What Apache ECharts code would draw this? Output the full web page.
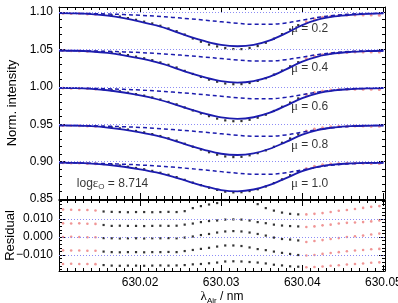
<!DOCTYPE html>
<html>
<head>
<meta charset="utf-8">
<script src="https://cdn.jsdelivr.net/npm/echarts@6/dist/echarts.min.js"></script>
<style>
  html, body { margin: 0; padding: 0; background: #fff; }
  #chart { width: 398px; height: 303px; }
</style>
</head>
<body>
<div id="chart"></div>
<script>
// wavelength grids (nm)
const lamObs = [
  630.0105, 630.0115, 630.0125, 630.0135, 630.0145, 630.0155, 630.0165, 630.0175, 630.0185, 630.0195,
  630.0205, 630.0215, 630.0225, 630.0235, 630.0245, 630.0255, 630.0265, 630.0275, 630.0285, 630.0295,
  630.0305, 630.0315, 630.0325, 630.0335, 630.0345, 630.0355, 630.0365, 630.0375, 630.0385, 630.0395,
  630.0405, 630.0415, 630.0425, 630.0435, 630.0445, 630.0455, 630.0465, 630.0475, 630.0485, 630.0495
]
const lamFit = [
  630.010, 630.012, 630.014, 630.016, 630.018, 630.020, 630.022, 630.024, 630.026, 630.028,
  630.030, 630.032, 630.034, 630.036, 630.038, 630.040, 630.042, 630.044, 630.046, 630.048, 630.050
]

const muNames = ['0.2', '0.4', '0.6', '0.8', '1.0']
const offsets = [0.10, 0.05, 0, -0.05, -0.10] // vertical shift of each profile
const residOffsets = [0.015, 0.0075, 0, -0.0075, -0.015]
const contLevels = [1.10, 1.05, 1.00, 0.95, 0.90]

// observed profiles (normalised intensity)
const obs02 = [0.9982, 0.9981, 0.9980, 0.9975, 0.9971, 0.9967, 0.9955, 0.9939, 0.9919, 0.9896, 0.9871, 0.9847, 0.9816, 0.9780, 0.9744, 0.9699, 0.9646, 0.9603, 0.9564, 0.9540, 0.9517, 0.9505, 0.9504, 0.9519, 0.9545, 0.9589, 0.9643, 0.9704, 0.9766, 0.9824, 0.9871, 0.9906, 0.9930, 0.9944, 0.9952, 0.9959, 0.9961, 0.9961, 0.9959, 0.9958]
const obs04 = [0.9984, 0.9983, 0.9979, 0.9976, 0.9971, 0.9967, 0.9959, 0.9942, 0.9924, 0.9903, 0.9881, 0.9856, 0.9826, 0.9794, 0.9758, 0.9713, 0.9672, 0.9632, 0.9596, 0.9568, 0.9545, 0.9535, 0.9536, 0.9551, 0.9579, 0.9615, 0.9663, 0.9717, 0.9774, 0.9829, 0.9877, 0.9910, 0.9930, 0.9945, 0.9953, 0.9959, 0.9964, 0.9967, 0.9966, 0.9964]
const obs06 = [0.9985, 0.9982, 0.9980, 0.9976, 0.9970, 0.9966, 0.9954, 0.9941, 0.9922, 0.9902, 0.9882, 0.9858, 0.9831, 0.9798, 0.9766, 0.9724, 0.9684, 0.9644, 0.9608, 0.9575, 0.9551, 0.9540, 0.9542, 0.9559, 0.9587, 0.9627, 0.9677, 0.9733, 0.9789, 0.9845, 0.9897, 0.9925, 0.9945, 0.9956, 0.9964, 0.9966, 0.9968, 0.9969, 0.9966, 0.9963]
const obs08 = [0.9984, 0.9983, 0.9980, 0.9976, 0.9971, 0.9967, 0.9958, 0.9945, 0.9928, 0.9910, 0.9891, 0.9868, 0.9842, 0.9812, 0.9781, 0.9739, 0.9699, 0.9661, 0.9625, 0.9593, 0.9569, 0.9560, 0.9564, 0.9584, 0.9613, 0.9650, 0.9698, 0.9752, 0.9809, 0.9864, 0.9908, 0.9937, 0.9954, 0.9966, 0.9972, 0.9974, 0.9975, 0.9976, 0.9974, 0.9974]
const obs10 = [0.9985, 0.9982, 0.9980, 0.9975, 0.9971, 0.9967, 0.9959, 0.9948, 0.9932, 0.9915, 0.9898, 0.9876, 0.9851, 0.9824, 0.9793, 0.9756, 0.9719, 0.9685, 0.9651, 0.9622, 0.9598, 0.9588, 0.9591, 0.9606, 0.9630, 0.9667, 0.9713, 0.9763, 0.9818, 0.9867, 0.9909, 0.9938, 0.9957, 0.9968, 0.9975, 0.9977, 0.9978, 0.9978, 0.9976, 0.9975]

// fitted synthetic profiles
const fit02 = [0.9985, 0.9982, 0.9972, 0.9952, 0.9918, 0.9873, 0.9820, 0.9752, 0.9675, 0.9610, 0.9560, 0.9542, 0.9560, 0.9620, 0.9717, 0.9825, 0.9900, 0.9941, 0.9963, 0.9975, 0.9981]
const fit04 = [0.9985, 0.9982, 0.9972, 0.9953, 0.9921, 0.9879, 0.9829, 0.9764, 0.9689, 0.9625, 0.9575, 0.9557, 0.9577, 0.9637, 0.9733, 0.9837, 0.9908, 0.9946, 0.9966, 0.9977, 0.9982]
const fit06 = [0.9985, 0.9982, 0.9972, 0.9954, 0.9924, 0.9885, 0.9837, 0.9776, 0.9704, 0.9640, 0.9590, 0.9572, 0.9593, 0.9654, 0.9748, 0.9848, 0.9916, 0.9952, 0.9969, 0.9978, 0.9982]
const fit08 = [0.9985, 0.9982, 0.9973, 0.9955, 0.9928, 0.9891, 0.9846, 0.9788, 0.9718, 0.9655, 0.9605, 0.9588, 0.9610, 0.9672, 0.9764, 0.9860, 0.9925, 0.9957, 0.9973, 0.9980, 0.9983]
const fit10 = [0.9985, 0.9982, 0.9973, 0.9956, 0.9931, 0.9897, 0.9855, 0.9800, 0.9733, 0.9670, 0.9620, 0.9603, 0.9627, 0.9689, 0.9780, 0.9872, 0.9933, 0.9963, 0.9976, 0.9982, 0.9984]

// blend component (dashed)
const blend02 = [0.9984, 0.9982, 0.9979, 0.9973, 0.9966, 0.9956, 0.9943, 0.9928, 0.9910, 0.9891, 0.9869, 0.9849, 0.9835, 0.9835, 0.9854, 0.9891, 0.9929, 0.9956, 0.9972, 0.9980, 0.9983]
const blend04 = [0.9984, 0.9982, 0.9979, 0.9974, 0.9967, 0.9958, 0.9946, 0.9932, 0.9915, 0.9897, 0.9877, 0.9858, 0.9845, 0.9845, 0.9863, 0.9897, 0.9933, 0.9958, 0.9973, 0.9980, 0.9983]
const blend06 = [0.9984, 0.9982, 0.9979, 0.9974, 0.9966, 0.9957, 0.9945, 0.9930, 0.9913, 0.9894, 0.9874, 0.9854, 0.9841, 0.9841, 0.9859, 0.9894, 0.9931, 0.9957, 0.9973, 0.9980, 0.9983]
const blend08 = [0.9984, 0.9982, 0.9979, 0.9973, 0.9966, 0.9957, 0.9944, 0.9929, 0.9911, 0.9893, 0.9872, 0.9852, 0.9838, 0.9838, 0.9857, 0.9893, 0.9930, 0.9957, 0.9972, 0.9980, 0.9983]
const blend10 = [0.9984, 0.9982, 0.9978, 0.9973, 0.9965, 0.9955, 0.9942, 0.9927, 0.9908, 0.9888, 0.9866, 0.9845, 0.9831, 0.9831, 0.9851, 0.9888, 0.9928, 0.9955, 0.9972, 0.9979, 0.9983]

// residuals
const res02 = [0.0003, 0.0002, 0, 0, -0.0002, -0.0008, -0.0010, -0.0011, -0.0012, -0.0011, -0.0011, -0.0012, -0.0011, -0.0010, -0.0011, -0.0006, 0.0011, 0.0022, 0.0031, 0.0039, 0.0056, 0.0067, 0.0067, 0.0056, 0.0033, 0.0011, -0.0003, -0.0014, -0.0021, -0.0024, -0.0024, -0.0021, -0.0017, -0.0011, -0.0004, 0, 0.0006, 0.0012, 0.0018, 0.0022]
const res04 = [0.0001, 0, 0.0001, -0.0001, -0.0002, -0.0008, -0.0013, -0.0012, -0.0013, -0.0013, -0.0014, -0.0013, -0.0012, -0.0013, -0.0012, -0.0006, 0, 0.0008, 0.0014, 0.0017, 0.0022, 0.0023, 0.0022, 0.0017, 0.0008, 0.0002, -0.0006, -0.0011, -0.0014, -0.0016, -0.0019, -0.0016, -0.0010, -0.0006, 0, 0.0004, 0.0006, 0.0008, 0.0012, 0.0017]
const res06 = [0, 0.0001, 0, -0.0001, -0.0001, -0.0006, -0.0007, -0.0008, -0.0007, -0.0007, -0.0008, -0.0007, -0.0007, -0.0006, -0.0007, -0.0003, 0.0003, 0.0011, 0.0017, 0.0025, 0.0031, 0.0033, 0.0031, 0.0025, 0.0017, 0.0008, -0.0003, -0.0011, -0.0014, -0.0019, -0.0028, -0.0022, -0.0017, -0.0011, -0.0006, 0, 0.0004, 0.0008, 0.0014, 0.0019]
const res08 = [0.0001, 0, 0, -0.0001, -0.0001, -0.0006, -0.0009, -0.0010, -0.0009, -0.0009, -0.0010, -0.0009, -0.0009, -0.0008, -0.0009, -0.0003, 0.0003, 0.0009, 0.0015, 0.0022, 0.0028, 0.0028, 0.0025, 0.0017, 0.0008, 0.0002, -0.0006, -0.0013, -0.0019, -0.0025, -0.0028, -0.0025, -0.0019, -0.0014, -0.0009, -0.0004, 0, 0.0003, 0.0007, 0.0009]
const res10 = [0, 0.0001, 0, 0, -0.0001, -0.0006, -0.0009, -0.0010, -0.0009, -0.0009, -0.0010, -0.0009, -0.0008, -0.0009, -0.0008, -0.0006, -0.0002, 0, 0.0004, 0.0008, 0.0014, 0.0015, 0.0014, 0.0011, 0.0008, 0.0003, -0.0004, -0.0008, -0.0013, -0.0015, -0.0018, -0.0017, -0.0014, -0.0010, -0.0007, -0.0003, 0, 0.0003, 0.0007, 0.0009]

// points used in the fit (black), the rest are red
const fitFrom = 5
const fitTo = 29

// residual axis ticks
const residLabels = [-0.01, 0, 0.01]
const residMinor = [-0.018, -0.016, -0.014, -0.012, -0.008, -0.006, -0.004, -0.002, 0.002, 0.004, 0.006, 0.008, 0.012, 0.014, 0.016, 0.018, 0.020]

// label positions (data coords)
const muLabelX = 630.0386
const muLabelY = [1.078, 1.025, 0.973, 0.922, 0.871]
const abundance = '8.714'

const obsAll = [obs02, obs04, obs06, obs08, obs10]
const fitAll = [fit02, fit04, fit06, fit08, fit10]
const blendAll = [blend02, blend04, blend06, blend08, blend10]
const resAll = [res02, res04, res06, res08, res10]

const FONT = '"Liberation Sans", Arial, Helvetica, sans-serif'
const SERIF = '"Liberation Serif", "DejaVu Serif", serif'
const LINE_BLUE = '#1c1cae'
const DOT_BLUE = '#8c8cf5'
const RED = '#ec7a7a'

const chart = echarts.init(document.getElementById('chart'), null, { renderer: 'canvas' })

function xAx(grid, pos, labels) {
  return {
    gridIndex: grid, type: 'value', position: pos,
    min: 630.01, max: 630.0502, interval: 0.01,
    axisLine: { show: true, onZero: false, lineStyle: { color: '#000', width: 1 } },
    axisTick: { show: true, inside: true, length: 6, lineStyle: { color: '#000' } },
    minorTick: { show: true, splitNumber: 10, length: 3, lineStyle: { color: '#000' } },
    splitLine: { show: false },
    axisLabel: {
      show: labels, showMinLabel: false, margin: 6, color: '#000', fontSize: 12, fontFamily: FONT,
      formatter: v => v.toFixed(2)
    }
  }
}

const resLim = { min: -0.0189, max: 0.0206 }
function resAx(pos, labels, minor) {
  return {
    gridIndex: 1, type: 'value', position: pos, min: resLim.min, max: resLim.max, offset: 0,
    axisLine: { show: !minor, onZero: false, lineStyle: { color: '#000', width: 1 } },
    axisTick: { show: true, inside: true, length: minor ? 3 : 6, customValues: minor ? residMinor : residLabels, lineStyle: { color: '#000' } },
    splitLine: { show: false },
    axisLabel: {
      show: labels, customValues: residLabels, margin: 6, color: '#000', fontSize: 12, fontFamily: FONT,
      formatter: v => (v < 0 ? '\u2212' : '') + Math.abs(v).toFixed(3)
    }
  }
}

const series = []

// dotted continuum / zero levels
series.push({
  type: 'line', xAxisIndex: 0, yAxisIndex: 0, data: [], silent: true,
  markLine: {
    symbol: 'none', silent: true, label: { show: false }, animation: false,
    lineStyle: { type: [1, 2], color: DOT_BLUE, width: 1 },
    data: contLevels.map(v => ({ yAxis: v }))
  }
})
series.push({
  type: 'line', xAxisIndex: 2, yAxisIndex: 2, data: [], silent: true,
  markLine: {
    symbol: 'none', silent: true, label: { show: false }, animation: false,
    lineStyle: { type: [1, 2], color: DOT_BLUE, width: 1 },
    data: residOffsets.map(v => ({ yAxis: v }))
  }
})

for (let k = 0; k < 5; k++) {
  const off = offsets[k]
  series.push({
    type: 'line', xAxisIndex: 0, yAxisIndex: 0, symbol: 'none', smooth: 0.35,
    lineStyle: { color: LINE_BLUE, width: 1.5, type: [4, 3] },
    data: lamFit.map((x, i) => [x, blendAll[k][i] + off])
  })
  series.push({
    type: 'line', xAxisIndex: 0, yAxisIndex: 0, symbol: 'none', smooth: 0.35,
    lineStyle: { color: LINE_BLUE, width: 1.8 },
    data: lamFit.map((x, i) => [x, fitAll[k][i] + off])
  })
  const red = [], black = [], rRed = [], rBlack = []
  lamObs.forEach((x, i) => {
    const inFit = i >= fitFrom && i <= fitTo
    ;(inFit ? black : red).push([x, obsAll[k][i] + off])
    ;(inFit ? rBlack : rRed).push([x, resAll[k][i] + residOffsets[k]])
  })
  series.push({ type: 'scatter', xAxisIndex: 0, yAxisIndex: 0, symbol: 'circle', symbolSize: 3, itemStyle: { color: RED }, data: red })
  series.push({ type: 'scatter', xAxisIndex: 0, yAxisIndex: 0, symbol: 'rect', symbolSize: 2.2, itemStyle: { color: '#000' }, data: black })
  series.push({ type: 'scatter', xAxisIndex: 2, yAxisIndex: 2, symbol: 'circle', symbolSize: 2.6, clip: true, itemStyle: { color: RED }, data: rRed })
  series.push({ type: 'scatter', xAxisIndex: 2, yAxisIndex: 2, symbol: 'rect', symbolSize: 2.2, clip: true, itemStyle: { color: '#000' }, data: rBlack })
}

// text annotations
series.push({
  type: 'scatter', xAxisIndex: 0, yAxisIndex: 0, symbolSize: 0, silent: true,
  data: muNames.map((m, k) => ({ value: [muLabelX, muLabelY[k]], name: m })),
  label: {
    show: true, position: 'right', distance: 0,
    formatter: p => '{g|\u03bc} {t|= ' + p.name + '}',
    rich: {
      g: { fontFamily: SERIF, fontSize: 13, color: '#000' },
      t: { fontFamily: FONT, fontSize: 12, color: '#000' }
    }
  }
})
series.push({
  type: 'scatter', xAxisIndex: 0, yAxisIndex: 0, symbolSize: 0, silent: true,
  data: [{ value: [630.0122, muLabelY[4]], name: abundance }],
  label: {
    show: true, position: 'right', distance: 0,
    formatter: p => '{t|log}{g|\u03b5}{s|O}{t| = ' + p.name + '}',
    rich: {
      t: { fontFamily: FONT, fontSize: 12, color: '#000', lineHeight: 16 },
      g: { fontFamily: SERIF, fontSize: 13, color: '#000', lineHeight: 16 },
      s: { fontFamily: FONT, fontSize: 8, color: '#000', lineHeight: 8, verticalAlign: 'bottom' }
    }
  }
})

chart.setOption({
  animation: false,
  backgroundColor: '#fff',
  grid: [
    { left: 59, right: 13, top: 7, height: 192, outerBoundsMode: 'none', containLabel: false },
    { left: 59, right: 13, top: 200, height: 71, outerBoundsMode: 'none', containLabel: false }
  ],
  xAxis: [
    xAx(0, 'bottom', false),
    xAx(0, 'top', false),
    Object.assign(xAx(1, 'bottom', true), {
      name: '{g|\u03bb}{s|Air}{t| / nm}', nameLocation: 'middle', nameGap: 18, nameMoveOverlap: false,
      nameTextStyle: {
        rich: {
          g: { fontFamily: SERIF, fontSize: 13, color: '#000', lineHeight: 16 },
          s: { fontFamily: FONT, fontSize: 8, color: '#000', lineHeight: 8, verticalAlign: 'bottom' },
          t: { fontFamily: FONT, fontSize: 12, color: '#000', lineHeight: 16 }
        }
      }
    }),
    xAx(1, 'top', false)
  ],
  yAxis: [
    {
      gridIndex: 0, type: 'value', position: 'left', min: 0.85, max: 1.1067, interval: 0.05,
      name: 'Norm. intensity', nameLocation: 'middle', nameGap: 40, nameMoveOverlap: false,
      nameTextStyle: { fontFamily: FONT, fontSize: 13, color: '#000' },
      axisLine: { show: true, lineStyle: { color: '#000', width: 1 } },
      axisTick: { inside: true, length: 6, lineStyle: { color: '#000' } },
      minorTick: { show: true, splitNumber: 5, length: 3, lineStyle: { color: '#000' } },
      splitLine: { show: false },
      axisLabel: { margin: 6, color: '#000', fontSize: 12, fontFamily: FONT, formatter: v => v.toFixed(2) }
    },
    {
      gridIndex: 0, type: 'value', position: 'right', min: 0.85, max: 1.1067, interval: 0.05,
      axisLine: { show: true, lineStyle: { color: '#000', width: 1 } },
      axisTick: { inside: true, length: 6, lineStyle: { color: '#000' } },
      minorTick: { show: true, splitNumber: 5, length: 3, lineStyle: { color: '#000' } },
      splitLine: { show: false },
      axisLabel: { show: false }
    },
    Object.assign(resAx('left', true, false), {
      name: 'Residual', nameLocation: 'middle', nameGap: 42, nameMoveOverlap: false,
      nameTextStyle: { fontFamily: FONT, fontSize: 13, color: '#000' }
    }),
    resAx('right', false, false),
    resAx('left', false, true),
    resAx('right', false, true)
  ],
  series: series
})
</script>
</body>
</html>
